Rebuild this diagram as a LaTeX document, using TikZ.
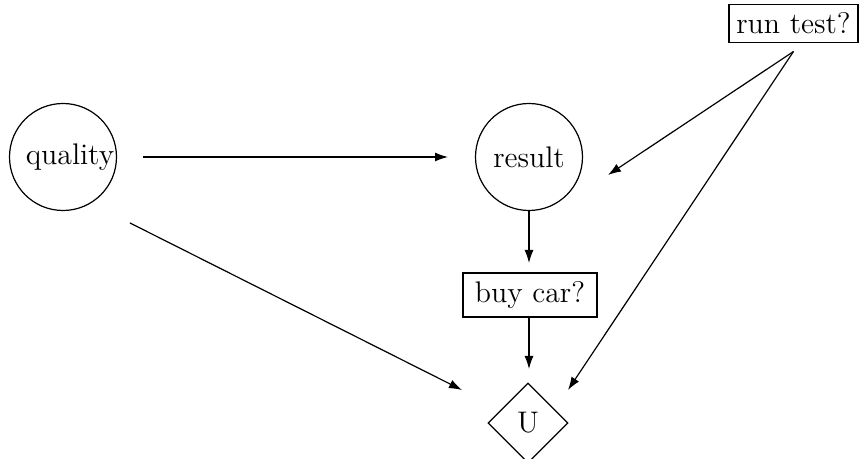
\documentclass[tikz,border=0pt]{standalone}
\usetikzlibrary{shapes.geometric,arrows.meta,calc}
\begin{document}
\begin{tikzpicture}[x=0.5pt,y=-0.5pt,
  every node/.style={font=\fontsize{14.9}{18}\selectfont},
  chance/.style={circle,draw,line width=0.6pt,minimum size=53.5pt,inner sep=0pt},
  decision/.style={rectangle,draw,line width=0.6pt,inner sep=0pt},
  utility/.style={diamond,draw,line width=0.6pt,minimum width=40pt,minimum height=40pt,inner sep=0pt},
  link/.style={line width=0.6pt,-{Latex[length=6.5pt,width=4.5pt]}}]
\useasboundingbox (0,0) rectangle (859,459);
\node[chance] (quality) at (63,157) {\hspace*{7pt}quality};
\node[chance] (result) at (529,157) {result};
\node[decision,minimum width=64.5pt,minimum height=19pt] (runtest) at (793.5,23.5) {run test?};
\node[decision,minimum width=67pt,minimum height=22pt] (buycar) at (530,295) {buy car?};
\node[utility] (U) at (528,423) {U};
\draw[link] ($(quality)+(80,0)$) -- ($(result)+(-81,0)$);
\draw[link] ($(quality)+(67,66)$) -- ($(U)+(-66,-33)$);
\draw[link] ($(result)+(0,53)$) -- ($(buycar)+(-1,-32)$);
\draw[link] ($(buycar)+(-1,22)$) -- ($(U)+(1,-54)$);
\draw[link] ($(runtest)+(0,28)$) -- ($(result)+(79,18)$);
\draw[link] ($(runtest)+(0,28)$) -- ($(U)+(40,-33)$);
\end{tikzpicture}
\end{document}
